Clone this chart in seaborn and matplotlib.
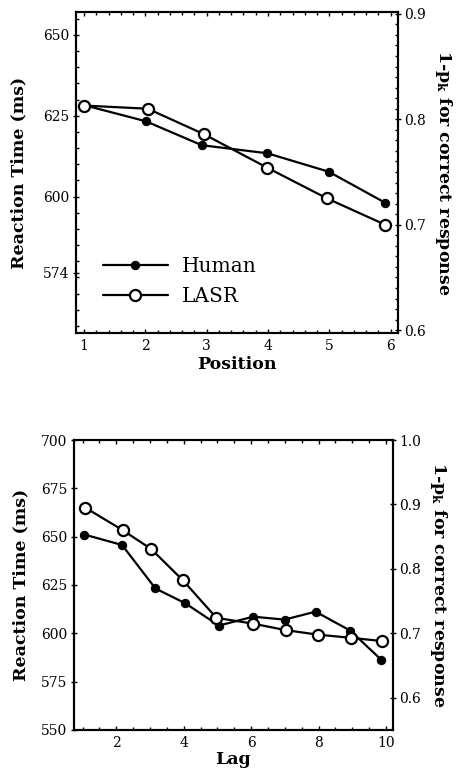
import numpy as np
import pandas as pd
import matplotlib
matplotlib.use('Agg')
import matplotlib.pyplot as plt
from matplotlib.ticker import MultipleLocator, FixedLocator
import seaborn as sns

# Valori: pannello superiore (Position)
pos_human = [1, 2.01, 2.92, 3.99, 4.99, 5.91]
rt_human_pos = [628.3, 623.3, 615.9, 613.4, 607.7, 598.1]
pos_lasr = [1, 2.04, 2.95, 3.99, 4.96, 5.91]
pk_lasr_pos = [0.813, 0.810, 0.786, 0.754, 0.725, 0.700]
pos_ticks = [1, 2, 3, 4, 5, 6]
rt_ticks_pos = [650, 625, 600, 576.5]
rt_labels_pos = ['650', '625', '600', '574']
pk_ticks_pos = [0.6, 0.7, 0.8, 0.9]

# Pannello inferiore (Lag)
lag_human = [1.05, 2.17, 3.16, 4.05, 5.04, 6.06, 6.99, 7.91, 8.94, 9.86]
rt_human_lag = [651.1, 645.7, 623.2, 615.5, 604.0, 608.6, 607.1, 611.2, 601.4, 586.3]
lag_lasr = [1.08, 2.19, 3.03, 3.98, 4.97, 6.06, 7.02, 7.97, 8.96, 9.88]
pk_lasr_lag = [0.895, 0.860, 0.831, 0.782, 0.724, 0.715, 0.705, 0.698, 0.693, 0.688]
lag_ticks = [2, 4, 6, 8, 10]
rt_ticks_lag = [550, 575, 600, 625, 650, 675, 700]
pk_ticks_lag = [0.6, 0.7, 0.8, 0.9, 1.0]

series_names = ['Human', 'LASR']

sns.set_theme(style='ticks')
plt.rcParams['font.family'] = ['DejaVu Serif']
plt.rcParams['mathtext.fontset'] = 'dejavuserif'
plt.rcParams['axes.linewidth'] = 1.5
plt.rcParams['text.color'] = 'black'
plt.rcParams['axes.labelcolor'] = 'black'
plt.rcParams['xtick.color'] = 'black'
plt.rcParams['ytick.color'] = 'black'

fig = plt.figure(figsize=(4.65, 7.71), dpi=100)
ax_top = fig.add_axes([0.1628, 0.5677, 0.6938, 0.4171])
ax_bot = fig.add_axes([0.1581, 0.0532, 0.6865, 0.3761])

lab_font = dict(fontsize=12.5, fontweight='bold', color='black')
right_label = r'1-p$_{\mathbf{k}}$ for correct response'


def draw_panel(ax, xh, yh, xl, yl):
    ax2 = ax.twinx()
    sns.lineplot(x=xh, y=yh, ax=ax, color='black', linewidth=1.6, marker='o',
                 markersize=6, markerfacecolor='black', markeredgecolor='black',
                 label=series_names[0], legend=False, sort=False)
    sns.lineplot(x=xl, y=yl, ax=ax2, color='black', linewidth=1.6, marker='o',
                 markersize=8, markerfacecolor='white', markeredgecolor='black',
                 markeredgewidth=1.6, label=series_names[1], legend=False, sort=False)
    for a in (ax, ax2):
        for s in a.spines.values():
            s.set_visible(True)
            s.set_linewidth(1.5)
            s.set_color('black')
        a.tick_params(colors='black', labelcolor='black', labelsize=10, width=1)
    ax.tick_params(axis='x', which='both', direction='in', top=True, pad=4)
    ax.tick_params(axis='x', which='major', length=3)
    ax.tick_params(axis='x', which='minor', length=2)
    ax.tick_params(axis='y', which='major', direction='inout', length=5, pad=2)
    ax2.tick_params(axis='y', which='major', direction='inout', length=5, pad=2)
    ax.tick_params(axis='y', which='minor', direction='in', length=2)
    ax2.tick_params(axis='y', which='minor', direction='in', length=2)
    return ax2


# Pannello superiore
ax2_top = draw_panel(ax_top, pos_human, rt_human_pos, pos_lasr, pk_lasr_pos)
ax_top.set_xlim(0.865, 6.125)
ax_top.set_ylim(557.7, 657.2)
ax2_top.set_ylim(0.597, 0.902)
ax_top.xaxis.set_major_locator(FixedLocator(pos_ticks))
ax_top.xaxis.set_minor_locator(MultipleLocator(0.2))
ax_top.set_yticks(rt_ticks_pos)
ax_top.set_yticklabels(rt_labels_pos)
ax_top.yaxis.set_minor_locator(MultipleLocator(5))
ax2_top.set_yticks(pk_ticks_pos)
ax2_top.set_yticklabels([f'{v:.1f}' for v in pk_ticks_pos])
ax2_top.yaxis.set_minor_locator(MultipleLocator(0.01))
ax_top.set_xlabel('Position', labelpad=2, **lab_font)
ax_top.set_ylabel('Reaction Time (ms)', labelpad=11, **lab_font)
ax2_top.set_ylabel(right_label, rotation=270, labelpad=20, **lab_font)

handles = ax_top.get_lines()[:1] + ax2_top.get_lines()[:1]
ax_top.legend(handles, series_names, loc='center left', bbox_to_anchor=(0.085, 0.16),
              frameon=False, fontsize=14.5, handlelength=3.2, handletextpad=0.7,
              labelspacing=0.55, borderpad=0, borderaxespad=0)

# Pannello inferiore
ax2_bot = draw_panel(ax_bot, lag_human, rt_human_lag, lag_lasr, pk_lasr_lag)
ax_bot.set_xlim(0.73, 10.2)
ax_bot.set_ylim(550, 700)
ax2_bot.set_ylim(0.55, 1.0)
ax_bot.xaxis.set_major_locator(FixedLocator(lag_ticks))
ax_bot.xaxis.set_minor_locator(MultipleLocator(0.5))
ax_bot.set_yticks(rt_ticks_lag)
ax2_bot.set_yticks(pk_ticks_lag)
ax2_bot.set_yticklabels([f'{v:.1f}' for v in pk_ticks_lag])
ax_bot.set_xlabel('Lag', labelpad=1, **lab_font)
ax_bot.set_ylabel('Reaction Time (ms)', labelpad=8, **lab_font)
ax2_bot.set_ylabel(right_label, rotation=270, labelpad=20, **lab_font)

fig.savefig('out.png', dpi=100)
